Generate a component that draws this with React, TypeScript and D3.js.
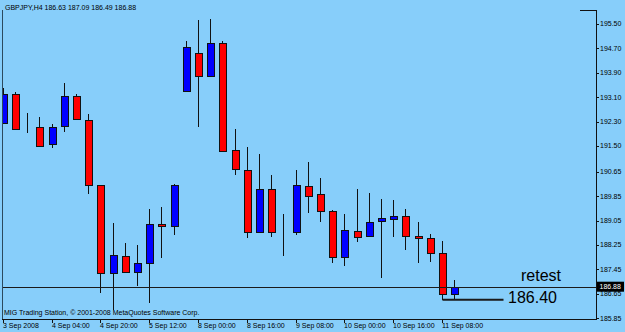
import React from "react";
import * as d3 from "d3";

const symbolTitle = "GBPJPY,H4  186.63 187.09 186.49 186.88";
const copyright = "MIG Trading Station, © 2001-2008 MetaQuotes Software Corp.";

const opens = [192.24,193.20,192.08,192.12,191.55,192.14,193.15,192.34,190.21,187.34,187.89,187.35,187.65,188.95,188.88,193.30,194.56,193.79,194.87,191.35,190.72,188.68,190.09,188.66,188.66,190.18,189.92,189.35,187.84,188.70,188.53,189.02,189.09,189.19,188.54,188.48,187.98,186.63];
const highs = [193.39,193.26,192.57,192.44,192.21,193.57,193.19,192.56,190.22,188.96,188.30,188.25,189.42,189.50,190.25,194.94,195.63,195.66,194.94,192.04,191.47,191.23,190.54,189.26,190.71,190.98,190.46,189.40,189.26,190.09,189.96,189.76,189.72,189.43,189.01,188.61,188.38,187.09];
const lows = [192.24,192.02,191.91,191.49,191.44,191.95,192.35,189.91,186.66,186.11,187.34,186.90,186.35,187.81,188.58,193.30,192.13,193.79,191.33,190.54,188.47,188.68,188.52,187.90,188.58,189.29,189.01,187.65,187.56,188.36,188.53,187.15,188.52,188.08,187.67,187.68,186.45,186.49];
const closes = [193.20,192.06,192.08,191.51,192.12,193.15,192.37,190.21,187.34,187.92,187.37,187.65,188.94,188.88,190.23,194.74,193.79,194.89,191.34,190.74,188.68,190.09,188.66,188.66,190.21,189.87,189.36,187.84,188.73,188.51,189.00,189.12,189.19,188.54,188.47,187.99,186.64,186.88];

const yTicks = [195.50,194.70,193.90,193.10,192.30,191.50,190.65,189.85,189.05,188.25,187.45,186.65,185.85];
const xTickIdx = [0,4,8,12,16,20,24,28,32,36];
const xTickLabels = ["3 Sep 2008","4 Sep 04:00","4 Sep 20:00","5 Sep 12:00","8 Sep 00:00","8 Sep 16:00","9 Sep 08:00","10 Sep 00:00","10 Sep 16:00","11 Sep 08:00"];

const currentPrice = 186.88;
const retestLabel = "retest";
const levelLabel = "186.40";
const retestBar = 36;

const W = 625, H = 332;
const L = 2, R = 596, T = 10, B = 319;
const FONT = "'Liberation Sans', Arial, sans-serif";

export default function App() {
  const x = d3.scaleLinear().domain([0, 37]).range([2.7, 454.1]);
  const y = d3.scaleLinear().domain([185.82, 195.96]).range([B, T]);
  const bw = 7;
  const cx = (i: number) => Math.round(x(i)) + 0.5;
  const yCur = y(currentPrice);
  const yLevel = y(lows[retestBar]);
  const xLevel = cx(retestBar);

  return (
    <div style={{ position: "fixed", left: 0, top: 0 }}>
      <svg width={W} height={H} style={{ display: "block" }} fontFamily={FONT}>
        <rect x={0} y={0} width={W} height={H} fill="#87CEFA" />
        <defs>
          <clipPath id="plot">
            <rect x={L} y={T} width={R - L} height={B - T} />
          </clipPath>
        </defs>
        <g clipPath="url(#plot)">
          {opens.map((o, i) => {
            const c = closes[i];
            const xc = cx(i);
            const top = y(Math.max(o, c));
            const bot = y(Math.min(o, c));
            const fill = c > o ? "#0000FF" : c < o ? "#FF0000" : "none";
            return (
              <g key={i}>
                <line x1={xc} x2={xc} y1={Math.round(y(highs[i]))} y2={Math.round(y(lows[i]))} stroke="#111" strokeWidth={1} shapeRendering="crispEdges" />
                <rect x={xc - bw / 2} y={Math.round(top) + 0.5} width={bw} height={Math.max(0, Math.round(bot) - Math.round(top))} fill={fill} stroke="#111" strokeWidth={1} shapeRendering="crispEdges" />
              </g>
            );
          })}
        </g>
        {/* current price line */}
        <line x1={L} x2={R} y1={Math.round(yCur) + 0.5} y2={Math.round(yCur) + 0.5} stroke="#1a1a1a" strokeWidth={1} shapeRendering="crispEdges" />
        {/* frame */}
        <line x1={L + 0.5} x2={L + 0.5} y1={T} y2={B} stroke="#2b4a5e" strokeWidth={1} shapeRendering="crispEdges" />
        <line x1={R + 0.5} x2={R + 0.5} y1={T} y2={B + 1} stroke="#111" strokeWidth={1} shapeRendering="crispEdges" />
        <line x1={580} x2={R} y1={T + 0.5} y2={T + 0.5} stroke="#111" strokeWidth={1} shapeRendering="crispEdges" />
        <line x1={L} x2={R} y1={B + 0.5} y2={B + 0.5} stroke="#111" strokeWidth={1} shapeRendering="crispEdges" />
        {/* y axis */}
        {yTicks.map((t) => (
          <g key={t}>
            <line x1={R} x2={R + 3} y1={Math.round(y(t)) + 0.5} y2={Math.round(y(t)) + 0.5} stroke="#111" shapeRendering="crispEdges" />
            <text x={600} y={y(t)} dy="0.35em" fontSize={7} fill="#000">{t.toFixed(2)}</text>
          </g>
        ))}
        {/* current price box */}
        <rect x={597} y={yCur - 5} width={27} height={10} fill="#000" />
        <text x={599.5} y={yCur} dy="0.35em" fontSize={7} fill="#fff">{currentPrice.toFixed(2)}</text>
        {/* x axis */}
        {xTickIdx.map((idx, k) => (
          <g key={idx}>
            <line x1={cx(idx)} x2={cx(idx)} y1={B} y2={B + 4} stroke="#111" shapeRendering="crispEdges" />
            <text x={cx(idx) - 0.5} y={328} fontSize={7} fill="#000">{xTickLabels[k]}</text>
          </g>
        ))}
        {/* title and copyright */}
        <text x={5} y={10} fontSize={7} fill="#000">{symbolTitle}</text>
        <text x={4} y={315} fontSize={7} fill="#000">{copyright}</text>
        {/* annotations */}
        <text x={521} y={yCur - 6} fontSize={16} fill="#000">{retestLabel}</text>
        <line x1={xLevel} x2={xLevel + 61} y1={yLevel} y2={yLevel} stroke="#1a1a1a" strokeWidth={2} />
        <text x={508} y={yLevel - 2} dy="0.35em" fontSize={16} fill="#000">{levelLabel}</text>
      </svg>
    </div>
  );
}
